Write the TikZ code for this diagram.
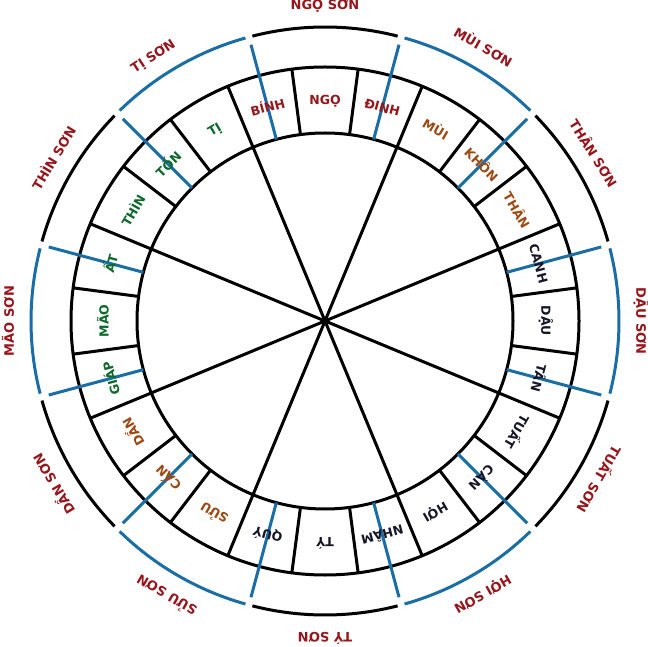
\documentclass[tikz,border=0pt]{standalone}
\usepackage{fontspec}
\setmainfont{DejaVu Sans}
\definecolor{fire}{RGB}{150,22,28}
\definecolor{earth}{RGB}{158,72,18}
\definecolor{wood}{RGB}{12,105,42}
\definecolor{metal}{RGB}{22,22,40}
\definecolor{sonred}{RGB}{150,22,28}
\definecolor{lineblue}{RGB}{26,110,165}
\tikzset{
  ringline/.style={line width=3pt, draw=black},
  blueline/.style={line width=3pt, draw=lineblue},
  cellname/.style={font=\bfseries\fontsize{12.5}{12.5}\selectfont, inner sep=0pt,
    text height=9.1pt, text depth=0pt, anchor=center},
  sonname/.style={font=\bfseries\fontsize{13}{13}\selectfont, text=sonred, inner sep=0pt,
    text height=9.5pt, text depth=0pt, anchor=center},
}
\begin{document}
\begin{tikzpicture}[x=1pt,y=1pt]
\useasboundingbox (0,0) rectangle (648,646);
\fill[white] (0,0) rectangle (648,646);
\begin{scope}[shift={(325,325)}]
  \coordinate (c) at (0,0);
  % spokes through the centre
  \foreach \a [count=\i] in {22.5,67.5,...,337.5}
    \draw[ringline] (c) -- (\a:188) coordinate (sp\i);
  % ring circles
  \draw[ringline] (c) circle[radius=188];
  \draw[ringline] (c) circle[radius=254];
  % 24 cell boundaries
  \foreach \a [count=\i] in {7.5,22.5,...,352.5}
    \draw[ringline] (\a:188) coordinate (bi\i) -- (\a:254) coordinate (bo\i);
  % blue dividers
  \foreach \a [count=\i] in {15,45,...,345}
    \draw[blueline] (\a:188) coordinate (ui\i) -- (\a:286) coordinate (uo\i);
  % outer arcs
  \foreach \a in {90,30,-30,-90,-150,150}
    \draw[ringline] ({\a-14.3}:294) arc[start angle={\a-14.3}, end angle={\a+14.3}, radius=294];
  \foreach \a in {60,0,-60,-120,180,120}
    \draw[blueline] ({\a-14.3}:294) arc[start angle={\a-14.3}, end angle={\a+14.3}, radius=294];
  % cell names
  \foreach \a/\t/\c [count=\i] in {90/NGỌ/fire, 75/ĐINH/fire, 60/MÙI/earth, 45/KHÔN/earth,
      30/THÂN/earth, 15/CANH/metal, 0/DẬU/metal, -15/TÂN/metal, -30/TUẤT/metal,
      -45/CÀN/metal, -60/HỢI/metal, -75/NHÂM/metal, -90/TÝ/metal, -105/QUÝ/metal,
      -120/SỬU/earth, -135/CẤN/earth, -150/DẦN/earth, -165/GIÁP/wood, 180/MÃO/wood,
      165/ẤT/wood, 150/THÌN/wood, 135/TỐN/wood, 120/TỊ/wood, 105/BÍNH/fire}
    \node[cellname, text=\c, rotate={\a-90}] (cell\i) at (\a:221) {\t};
  % mountain names
  \foreach \a/\t [count=\i] in {90/NGỌ SƠN, 60/MÙI SƠN, 32/THÂN SƠN, 0/DẬU SƠN,
      -30/TUẤT SƠN, -60/HỢI SƠN, -90/TÝ SƠN, -120/SỬU SƠN, -149/DẦN SƠN,
      180/MÃO SƠN, 149/THÌN SƠN, 123/TỊ SƠN}
    \node[sonname, rotate={\a-90}] (son\i) at (\a:316) {\t};
\end{scope}
\end{tikzpicture}
\end{document}
